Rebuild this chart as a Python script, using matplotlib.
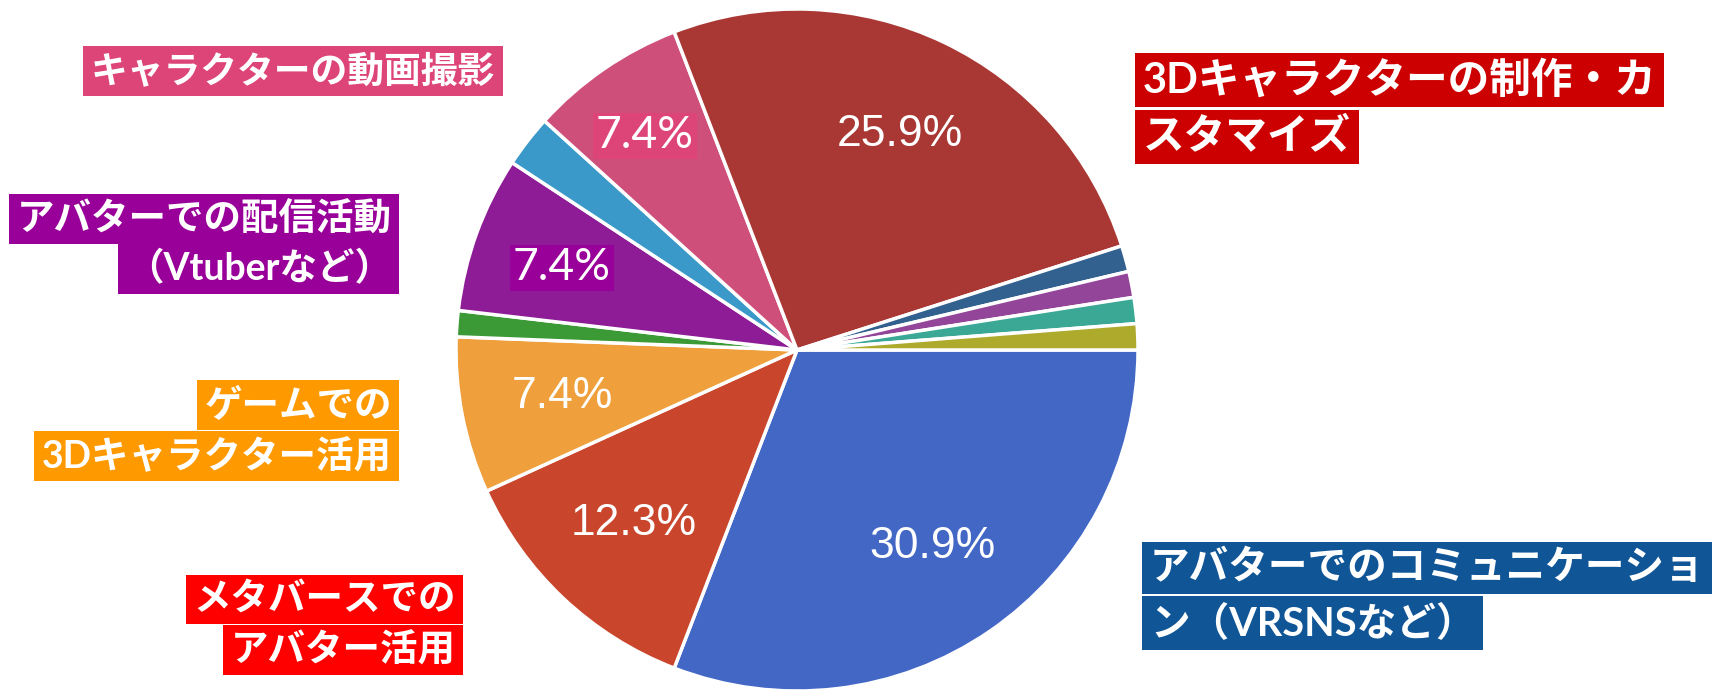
import matplotlib.pyplot as plt

W, H = 1729, 692

# 81 responses; counts clockwise from 3 o'clock
counts = [25, 10, 6, 1, 6, 2, 6, 21, 1, 1, 1, 1]
colors = ['#4267c5', '#c9452b', '#ef9f3b', '#3c9a36', '#8d1c96', '#3b99c9',
          '#cf4f7b', '#a93834', '#32608f', '#93459a', '#3aa895', '#adaa2c']

# (text lines, box colour, x edge, line centre y's, align, font size)
labels = [
    (['キャラクターの動画撮影'], '#dd4477', 495, [71], 'right', 26.5),
    (['アバターでの配信活動', '（Vtuberなど）'], '#990099', 392, [219, 268], 'right', 27),
    (['ゲームでの', '3Dキャラクター活用'], '#ff9900', 392, [405, 456], 'right', 27),
    (['メタバースでの', 'アバター活用'], '#ff0000', 456, [599, 650], 'right', 27),
    (['3Dキャラクターの制作・カ', 'スタマイズ'], '#cc0000', 1143, [80, 137], 'left', 30),
    (['アバターでのコミュニケーショ', 'ン（VRSNSなど）'], '#105596', 1150, [568, 623], 'left', 28.5),
]

fig = plt.figure(figsize=(W / 100, H / 100), dpi=100)
ax = fig.add_axes([0, 0, 1, 1])

def pct_fmt(p):
    return f'{p:.1f}%' if p > 5 else ''

wedges, texts, autotexts = ax.pie(
    counts, colors=colors, startangle=0, counterclock=False,
    center=(797, H - 350), radius=341, pctdistance=0.7, autopct=pct_fmt,
    wedgeprops=dict(edgecolor='white', linewidth=2.5),
    textprops=dict(color='white', fontsize=32, family='Liberation Sans'))

# two of the percentages were retyped on coloured patches
for i, c, pos in [(4, '#990099', (562, H - 268)), (6, '#dd4477', (645, H - 136))]:
    autotexts[i].set_fontfamily('Lato')
    autotexts[i].set_position(pos)
    autotexts[i].set_bbox(dict(facecolor=c, edgecolor='none', pad=2))

ax.set_xlim(0, W)
ax.set_ylim(0, H)
ax.set_aspect('equal')
ax.axis('off')

for lines, col, x, ys, ha, fs in labels:
    for line, y in zip(lines, ys):
        ax.text(x, H - y, line, ha=ha, va='center', color='white', fontsize=fs,
                fontweight='bold', family=['Lato', 'Noto Sans CJK JP'],
                bbox=dict(facecolor=col, edgecolor='none', pad=5.5))

fig.savefig('out.png', dpi=100)
